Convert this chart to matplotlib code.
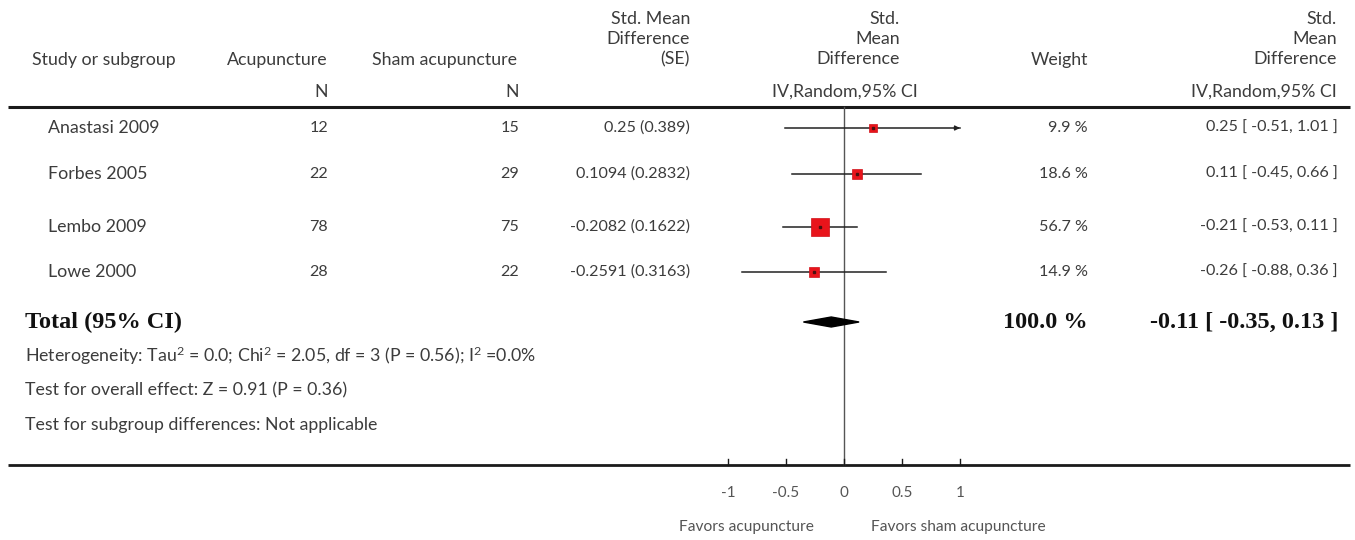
import matplotlib
matplotlib.use("Agg")
import matplotlib.pyplot as plt
import numpy as np

# ---- data ----
studies = ["Anastasi 2009", "Forbes 2005", "Lembo 2009", "Lowe 2000"]
n_acu = [12, 22, 78, 28]
n_sham = [15, 29, 75, 22]
smd = [0.25, 0.1094, -0.2082, -0.2591]
se = [0.389, 0.2832, 0.1622, 0.3163]
weight = [9.9, 18.6, 56.7, 14.9]
est = [0.25, 0.11, -0.21, -0.26]
ci_lo = [-0.51, -0.45, -0.53, -0.88]
ci_hi = [1.01, 0.66, 0.11, 0.36]
total_est, total_lo, total_hi, total_w = -0.11, -0.35, 0.13, 100.0
xticks = [-1, -0.5, 0, 0.5, 1]
xticklabels = ["-1", "-0.5", "0", "0.5", "1"]
footer = [
    "Heterogeneity: Tau$^2$ = 0.0; Chi$^2$ = 2.05, df = 3 (P = 0.56); I$^2$ =0.0%",
    "Test for overall effect: Z = 0.91 (P = 0.36)",
    "Test for subgroup differences: Not applicable",
]

# ---- layout ----
W, H = 1355, 540
row_y = [128, 174, 227, 272]
total_y = 322
footer_y = [356, 390, 425]
zero_px, unit_px = 844, 116
TXT = "#3c3c3c"
FONT = "Lato"
FS_LABEL = 12.8
FS_NUM = 11.6

plt.rcParams["mathtext.fontset"] = "custom"
plt.rcParams["mathtext.rm"] = FONT
plt.rcParams["mathtext.it"] = FONT
plt.rcParams["mathtext.bf"] = FONT

fig = plt.figure(figsize=(W / 100, H / 100), dpi=100)
bg = fig.add_axes([0, 0, 1, 1])
bg.set_xlim(0, W)
bg.set_ylim(H, 0)
bg.axis("off")


def t(x, y, s, ha="left", fs=FS_LABEL, **kw):
    opts = dict(fontfamily=FONT, fontsize=fs, color=TXT, ha=ha, va="center")
    opts.update(kw)
    bg.text(x, y, s, **opts)


# header
t(32, 60, "Study or subgroup")
t(277, 60, "Acupuncture", ha="center")
t(328, 92, "N", ha="right")
t(445, 60, "Sham acupuncture", ha="center")
t(519, 92, "N", ha="right")
for yy, s in zip([19, 39, 59], ["Std. Mean", "Difference", "(SE)"]):
    t(690, yy, s, ha="right")
for yy, s in zip([19, 39, 59], ["Std.", "Mean", "Difference"]):
    t(900, yy, s, ha="right")
    t(1337, yy, s, ha="right")
t(845, 92, "IV,Random,95% CI", ha="center")
t(1059, 60, "Weight", ha="center")
t(1337, 92, "IV,Random,95% CI", ha="right")

# rules
bg.plot([8, 1350], [107, 107], color="#1a1a1a", lw=2.2, solid_capstyle="butt")
bg.plot([8, 1350], [465, 465], color="#1a1a1a", lw=2.0, solid_capstyle="butt")

# study rows
for i, y in enumerate(row_y):
    t(48, y, studies[i])
    t(328, y, str(n_acu[i]), ha="right", fs=FS_NUM)
    t(519, y, str(n_sham[i]), ha="right", fs=FS_NUM)
    t(690, y, f"{smd[i]:g} ({se[i]:g})", ha="right", fs=FS_NUM)
    t(1088, y, f"{weight[i]:.1f} %", ha="right", fs=FS_NUM)
    t(1338, y, f"{est[i]:.2f} [ {ci_lo[i]:.2f}, {ci_hi[i]:.2f} ]", ha="right", fs=FS_NUM)

# total row
bold = dict(fontfamily="Liberation Serif", fontweight="bold", fs=17.5, color="#111111")
t(25, total_y, "Total (95% CI)", **bold)
t(1088, total_y, f"{total_w:.1f} %", ha="right", **bold)
t(1338, total_y, f"{total_est:.2f} [ {total_lo:.2f}, {total_hi:.2f} ]", ha="right", **bold)

for y, s in zip(footer_y, footer):
    t(25, y, s)

# ---- forest panel ----
x0_px, x1_px = 690, 1000
ax = fig.add_axes([x0_px / W, 0, (x1_px - x0_px) / W, 1])
ax.set_xlim((x0_px - zero_px) / unit_px, (x1_px - zero_px) / unit_px)
ax.set_ylim(H, 0)
ax.axis("off")
ax.patch.set_alpha(0)

ax.plot([0, 0], [107, 465], color="#555555", lw=1.0)
xmax = 1.0
for i, y in enumerate(row_y):
    hi = min(ci_hi[i], xmax)
    ax.plot([ci_lo[i], hi], [y, y], color="#222222", lw=1.1, zorder=2)
    if ci_hi[i] > xmax:
        ax.annotate("", xy=(hi, y), xytext=(hi - 0.05, y),
                    arrowprops=dict(arrowstyle="-|>", color="#222222", lw=1.0,
                                    mutation_scale=7, shrinkA=0, shrinkB=0))
    side = 2.5 * np.sqrt(weight[i]) * 0.72
    ax.plot(smd[i], y, marker="s", ms=side, mfc="#e8141b", mec="#d01018",
            mew=0.5, zorder=3)
    ax.plot(smd[i], y, marker="s", ms=1.8, color="#4a1010", zorder=4)

ax.fill([total_lo, total_est, total_hi, total_est],
        [total_y, total_y - 5, total_y, total_y + 5], color="black", zorder=3)

for v, lab in zip(xticks, xticklabels):
    ax.plot([v, v], [459, 465], color="#1a1a1a", lw=1.0)
    ax.text(v, 493, lab, ha="center", va="center", fontfamily=FONT,
            fontsize=11, color="#555555")
t(746, 527, "Favors acupuncture", ha="center", fs=11.2, color="#555555")
t(958, 527, "Favors sham acupuncture", ha="center", fs=11.2, color="#555555")

fig.savefig("out.png", dpi=100)
